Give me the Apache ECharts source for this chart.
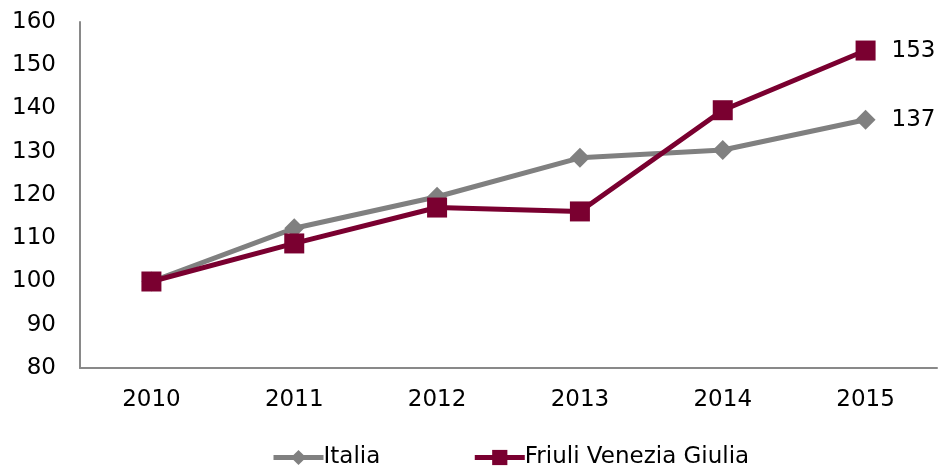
<!DOCTYPE html>
<html>
<head>
<meta charset="utf-8">
<script src="https://cdn.jsdelivr.net/npm/echarts@6/dist/echarts.min.js"></script>
<style>
  html, body { margin: 0; padding: 0; background: #fff; }
  #chart { width: 941px; height: 467px; }
</style>
</head>
<body>
<div id="chart"></div>
<script>
// anni sull'asse x
const years = ['2010', '2011', '2012', '2013', '2014', '2015']
// indice 2010 = 100
const italia = [100, 112.3, 119.6, 128.6, 130.4, 137.4]
const fvg = [100, 108.8, 117.1, 116.2, 139.6, 153.4]

const fontFamily = '"DejaVu Sans", Verdana, sans-serif'
const fontSize = 23

// solo l'ultimo punto ha l'etichetta
function withEndLabel (arr) {
  return arr.map((v, i) => {
    if (i !== arr.length - 1) return v
    return {
      value: v,
      label: {
        show: true,
        position: 'right',
        distance: 16,
        formatter: (p) => Math.round(p.value),
        color: '#000',
        fontSize: fontSize,
        fontFamily: fontFamily
      }
    }
  })
}

const chart = echarts.init(document.getElementById('chart'))
chart.setOption({
  animation: false,
  grid: {
    left: 80,
    right: 4,
    top: 22,
    bottom: 99
  },
  legend: {
    left: 266,
    top: 441,
    itemWidth: 50,
    itemHeight: 19,
    itemGap: 92,
    textStyle: {
      fontSize: fontSize,
      fontFamily: fontFamily,
      color: '#000',
      padding: [0, 0, 0, -5]
    },
    data: [
      { name: 'Italia', lineStyle: { width: 5 } },
      { name: 'Friuli Venezia Giulia', lineStyle: { width: 5 } }
    ]
  },
  xAxis: {
    type: 'category',
    data: years,
    axisLine: { lineStyle: { color: '#898989', width: 2 } },
    axisTick: { show: false },
    axisLabel: {
      color: '#000',
      fontSize: fontSize,
      fontFamily: fontFamily,
      margin: 21
    }
  },
  yAxis: {
    type: 'value',
    min: 80,
    max: 160,
    interval: 10,
    axisLine: { show: true, lineStyle: { color: '#898989', width: 2 } },
    axisTick: { show: false },
    splitLine: { show: false },
    axisLabel: {
      color: '#000',
      fontSize: fontSize,
      fontFamily: fontFamily,
      margin: 24
    }
  },
  series: [
    {
      name: 'Italia',
      type: 'line',
      data: withEndLabel(italia),
      symbol: 'diamond',
      symbolSize: 20,
      lineStyle: { color: '#808080', width: 5 },
      itemStyle: { color: '#808080' }
    },
    {
      name: 'Friuli Venezia Giulia',
      type: 'line',
      data: withEndLabel(fvg),
      symbol: 'rect',
      symbolSize: 20,
      lineStyle: { color: '#7a0030', width: 5 },
      itemStyle: { color: '#7a0030' }
    }
  ]
})
</script>
</body>
</html>
